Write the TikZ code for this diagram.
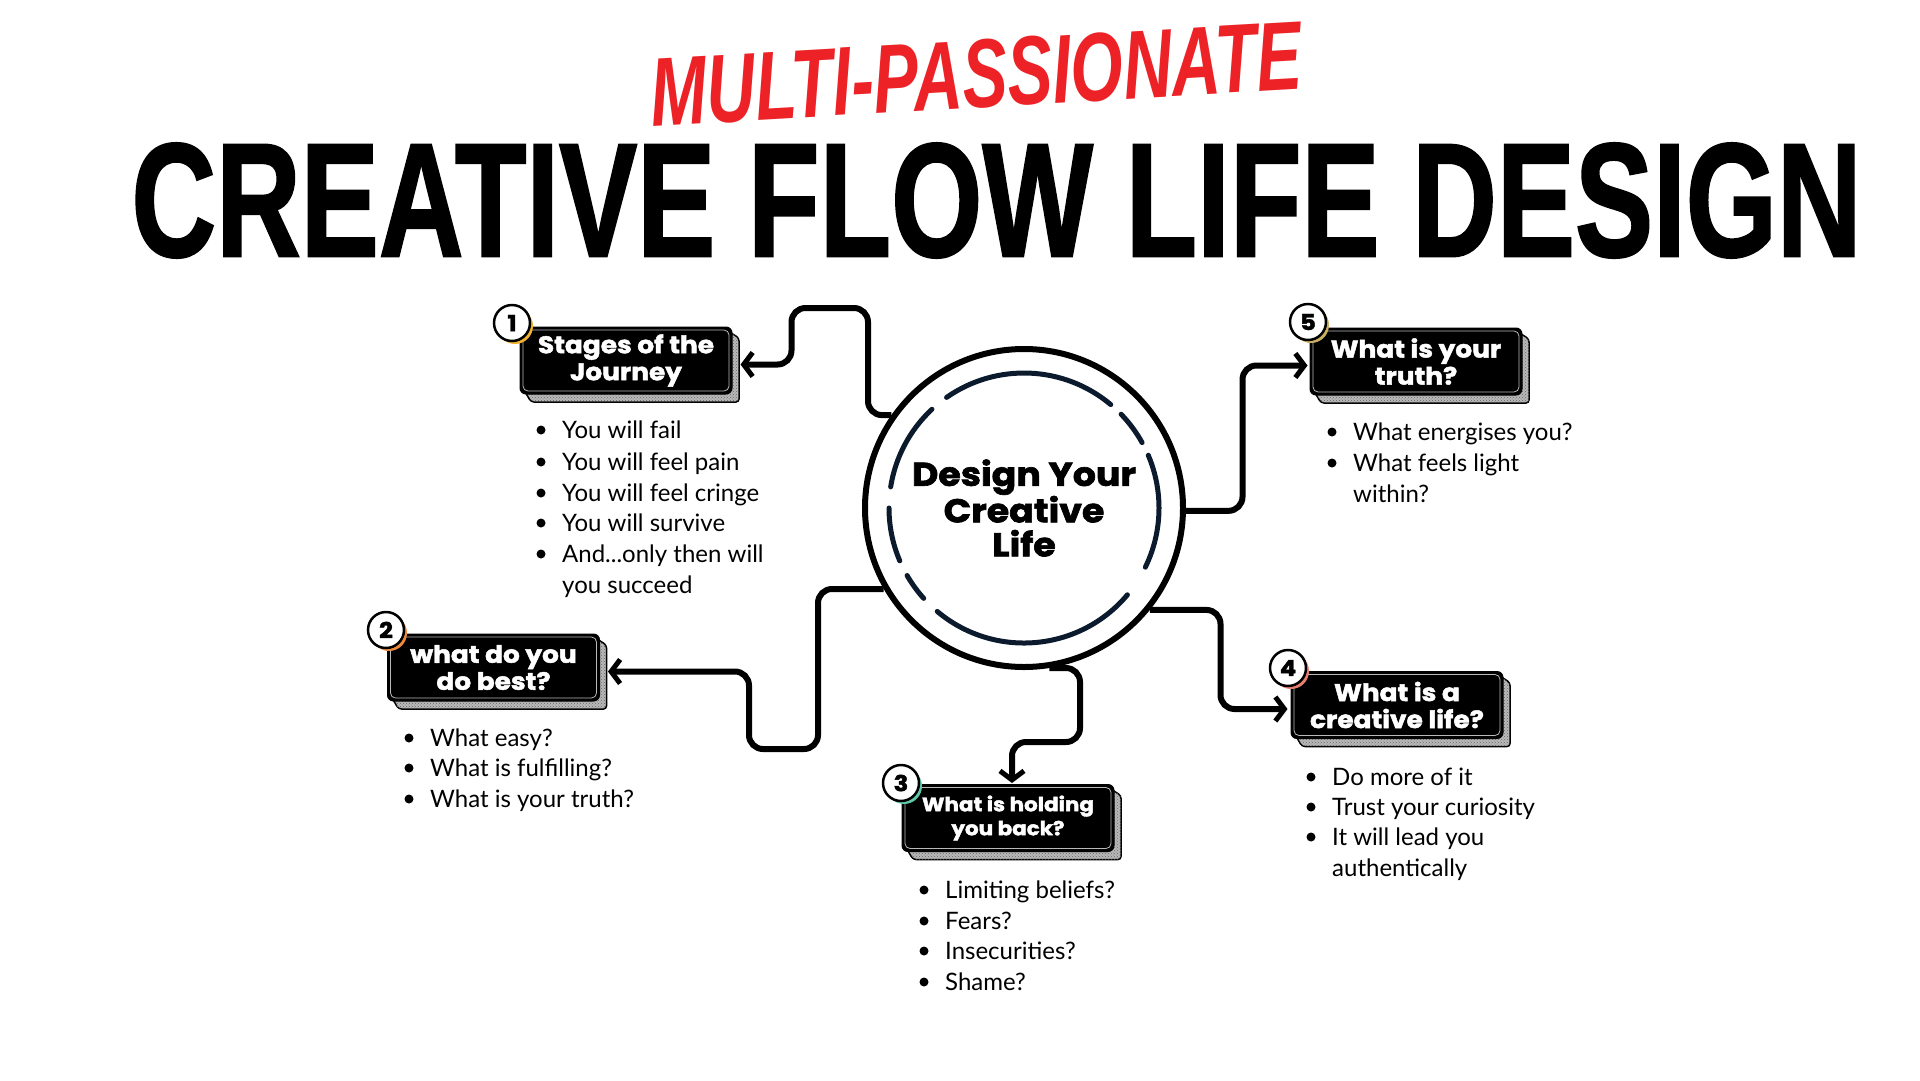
\documentclass[tikz,border=0pt]{standalone}
\usepackage{fontspec}
\usepackage{graphicx}
\usetikzlibrary{arrows.meta,patterns,shadows,calc}
\newfontfamily\labelfont{Poppins}[FakeStretch=1.1, BoldFeatures={FakeBold=2}]
\newfontfamily\listfont{Lato}
\newfontfamily\titlefont{Liberation Sans}[BoldFeatures={FakeBold=1.5}]
\definecolor{navy}{HTML}{0B1A2C}
\definecolor{titlered}{HTML}{EC2227}
\definecolor{cone}{HTML}{F0B030}
\definecolor{ctwo}{HTML}{F08A3A}
\definecolor{cthree}{HTML}{5EC8A8}
\definecolor{cfour}{HTML}{E88070}
\definecolor{cfive}{HTML}{C8B060}
\tikzset{
  conn/.style={line width=6pt, rounded corners=14pt, -{Straight Barb[length=9pt,width=24pt,line width=5pt]}},
  qbox/.style={fill=black, draw=black, line width=1pt, rounded corners=6pt, minimum width=212pt, minimum height=67pt,
    inner sep=0pt, text=white, align=center, font=\labelfont\bfseries\fontsize{24}{27}\selectfont},
  smallq/.style={font=\labelfont\bfseries\fontsize{19.5}{24}\selectfont},
  boxshadow/.style={fill=gray!55, draw=black, line width=1.5pt, rounded corners=3pt,
    postaction={pattern=crosshatch dots, pattern color=black!60}},
  boxinner/.style={draw=gray!55, line width=0.8pt, rounded corners=5pt},
  numc/.style={circle, draw=black, line width=2.5pt, fill=white, minimum size=36pt, inner sep=0pt,
    font=\labelfont\bfseries\fontsize{22}{22}\selectfont},
  litem/.style={anchor=west, inner sep=0pt, text height=17pt, text depth=1pt,
    font=\listfont\fontsize{24}{28}\selectfont},
  innerdash/.style={navy, line width=5pt, line cap=round},
}
\newcommand\qbox[5]{%
  \path[boxshadow] ({#2-102},{#3+29.5}) -- ({#2-95},{#3+41.5}) -- ({#2+113},{#3+41.5}) -- ({#2+113},{#3-22.5}) -- ({#2+102},{#3-29.5}) -- cycle;
  \node[qbox,#5] (#1) at (#2,#3) {#4};
  \draw[boxinner] ({#2-103},{#3-30.5}) rectangle ({#2+103},{#3+30.5});
}
\newcommand\litem[4]{%
  \fill ({#2},{#3}) circle (4.5pt);
  \node[litem] (#1) at ({#2+21},{#3}) {#4};
}
\newcommand\lcont[4]{%
  \node[litem] (#1) at ({#2+21},{#3}) {#4};
}
\begin{document}
\begin{tikzpicture}[x=1pt,y=-1pt]
\fill[white] (0,0) rectangle (1920,1080);
\useasboundingbox (0,0) rectangle (1920,1080);

% titles
\node[inner sep=0pt, rotate=3.3, text=titlered] (sub) at (976,74)
  {\resizebox{652pt}{68pt}{\titlefont\bfseries\itshape MULTI-PASSIONATE}};
\node[inner sep=0pt] (title) at (996.5,200.5)
  {\resizebox{1729pt}{113pt}{\titlefont\bfseries CREATIVE FLOW LIFE DESIGN}};

% hub
\node[circle, draw=black, line width=6pt, fill=white, minimum size=318pt, inner sep=0pt, align=center,
  font=\labelfont\bfseries\fontsize{33}{34}\selectfont] (hub) at (1024,508) {Design Your\\Creative\\Life};
\foreach \a/\b in {-26/23, 29/44, 50/125, 133/171, 180/203, 210/222, 230/320}
  \draw[innerdash] ([shift={(\a:135pt)}]hub.center) arc[start angle=\a, end angle=\b, radius=135pt];

% boxes
\qbox{b1}{626}{360.5}{Stages of the\\Journey}{}
\qbox{b5}{1416}{361.5}{What is your\\truth?}{}
\qbox{b2}{493.5}{667.5}{what do you\\do best?}{}
\qbox{b3}{1008}{818}{What is holding\\you back?}{smallq}
\qbox{b4}{1397}{705}{What is a\\creative life?}{}

% number badges
\node[numc, drop shadow={shadow xshift=3pt, shadow yshift=-3pt, fill=cone, opacity=1}] (n1) at (512,323) {1};
\node[numc, drop shadow={shadow xshift=3pt, shadow yshift=-3pt, fill=ctwo, opacity=1}] (n2) at (386,630) {2};
\node[numc, drop shadow={shadow xshift=3pt, shadow yshift=-3pt, fill=cthree, opacity=1}] (n3) at (901,783) {3};
\node[numc, drop shadow={shadow xshift=3pt, shadow yshift=-3pt, fill=cfour, opacity=1}] (n4) at (1288,668) {4};
\node[numc, drop shadow={shadow xshift=3pt, shadow yshift=-3pt, fill=cfive, opacity=1}] (n5) at (1308,322) {5};

% connectors
\draw[conn] (hub.145) -| (868,308) -| ($(b1.east)+(59,4)$) -- ($(b1.east)+(8,4)$);
\draw[conn] (hub.-1) -| ($(b5.west)+(-67,4)$) -- ($(b5.west)+(-2,4)$);
\draw[conn] (hub.210) -| (818,749) -| ($(b2.east)+(149,4)$) -- ($(b2.east)+(8,4)$);
\draw[conn] (hub.-81) -| (1080,742) -| ($(b3.north)+(4,-1)$);
\draw[conn] (hub.-39) -| ($(b4.west)+(-70,4)$) -- ($(b4.west)+(-3,4)$);

% lists
\litem{l11}{541}{430}{You will fail}
\litem{l12}{541}{462}{You will feel pain}
\litem{l13}{541}{493}{You will feel cringe}
\litem{l14}{541}{523}{You will survive}
\litem{l15}{541}{554}{And...only then will}
\lcont{l16}{541}{585}{you succeed}

\litem{l51}{1332}{432}{What energises you?}
\litem{l52}{1332}{463}{What feels light}
\lcont{l53}{1332}{494}{within?}

\litem{l21}{409}{738}{What easy?}
\litem{l22}{409}{768}{What is fulfilling?}
\litem{l23}{409}{799}{What is your truth?}

\litem{l31}{924}{890}{Limiting beliefs?}
\litem{l32}{924}{921}{Fears?}
\litem{l33}{924}{951}{Insecurities?}
\litem{l34}{924}{982}{Shame?}

\litem{l41}{1311}{777}{Do more of it}
\litem{l42}{1311}{807}{Trust your curiosity}
\litem{l43}{1311}{837}{It will lead you}
\lcont{l44}{1311}{868}{authentically}
\end{tikzpicture}
\end{document}
